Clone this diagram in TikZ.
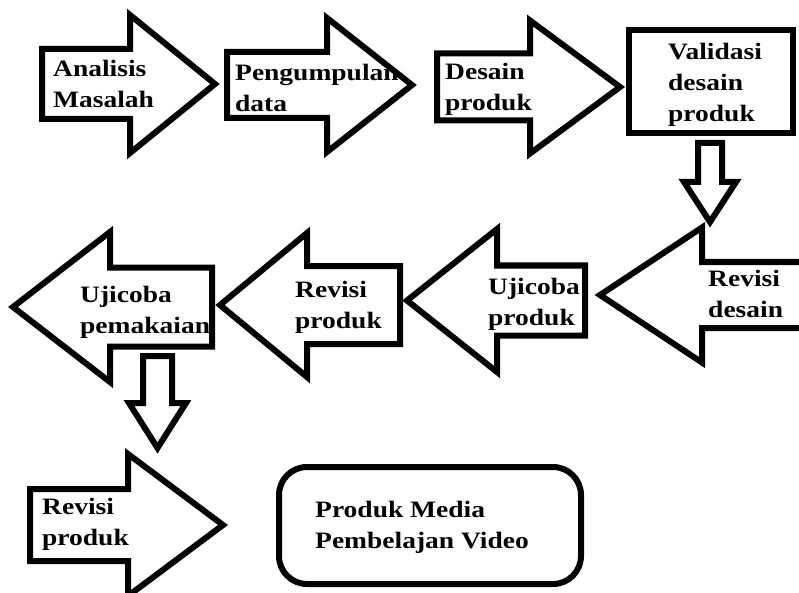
\documentclass[tikz,border=0pt]{standalone}
\usepackage{fontspec}
\newfontfamily\stagefont{Liberation Serif}[FakeStretch=1.17]
\tikzset{%
	fatarrow/.style = {draw, line width=6pt, fill=white}, % Block arrow
	frame/.style    = {draw, line width=6pt, fill=white}, % Box
	lbl/.style      = {anchor=base west, align=left, inner sep=0pt,
	                   font=\stagefont\bfseries\fontsize{23.5}{31}\selectfont}, % Text, placed at last baseline
}
% tip x, tip y, rotation, head length, shaft length, head half width, shaft half width
\newcommand{\blockarrow}[7]{%
	\draw[fatarrow, shift={(#1,#2)}, rotate=#3] (0,0) -- (-#4,#6) -- (-#4,#7) -- (-#4-#5,#7)
		-- (-#4-#5,-#7) -- (-#4,-#7) -- (-#4,-#6) -- cycle;}
\begin{document}
\begin{tikzpicture}[x=1pt, y=-1pt]
	\clip (0,0) rectangle (799,593);
	% top row
	\blockarrow{215}{84}{0}{85}{88}{69}{35}
	\blockarrow{412}{85}{0}{85}{100}{67}{33}
	\blockarrow{620}{87}{0}{90}{93}{66.5}{33.5}
	\draw[frame] (629,30) rectangle (793,133);
	\blockarrow{710}{222}{-90}{40}{39}{26}{12}
	% middle row
	\blockarrow{600}{295}{180}{102}{110}{67.5}{33}
	\blockarrow{407}{300.5}{180}{90}{88}{71.5}{35}
	\blockarrow{220}{305}{180}{87}{93}{72}{39}
	\blockarrow{13}{307}{180}{97}{102}{75}{39.5}
	\blockarrow{157.5}{448}{-90}{45}{47}{28.5}{14.5}
	% bottom row
	\blockarrow{223}{525}{0}{95}{98}{71}{36}
	\draw[frame, rounded corners=28pt] (279,467) rectangle (581,584);

	\node[lbl] (analisis) at (53,108) {Analisis\\Masalah};
	\node[lbl] (pengumpulan) at (235,112) {Pengumpulan\\data};
	\node[lbl] (desain) at (445,111) {Desain\\produk};
	\node[lbl] (validasi) at (668,122) {Validasi\\desain\\produk};
	\node[lbl] (revdesain) at (708,317) {Revisi\\desain};
	\node[lbl] (ujiproduk) at (488,325) {Ujicoba\\produk};
	\node[lbl] (revproduk) at (295,328) {Revisi\\produk};
	\node[lbl] (ujipakai) at (80,333) {Ujicoba\\pemakaian};
	\node[lbl] (revakhir) at (42,545) {Revisi\\produk};
	\node[lbl] (media) at (315,548) {Produk Media\\Pembelajan Video};
\end{tikzpicture}
\end{document}
